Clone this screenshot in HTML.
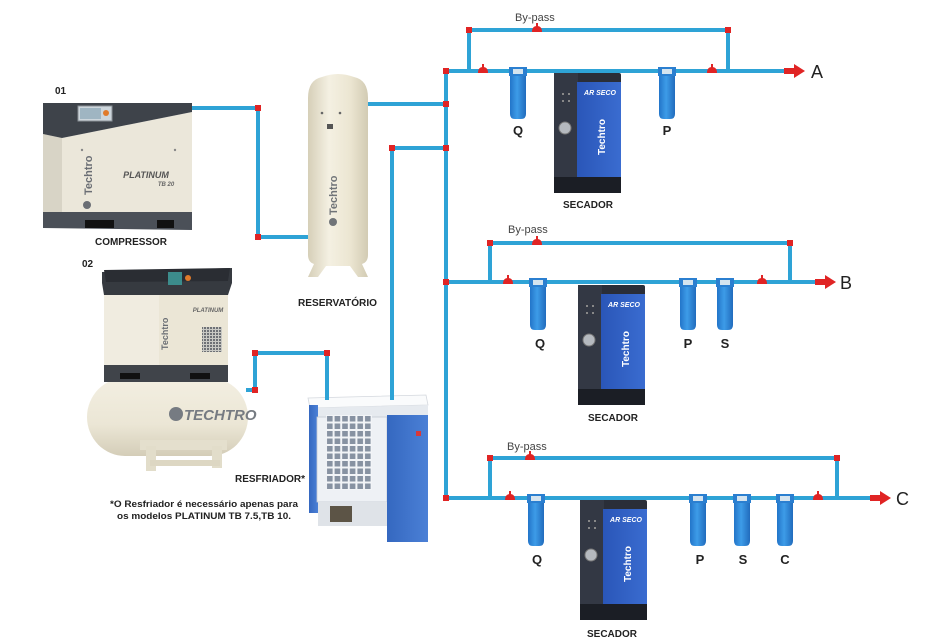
<!DOCTYPE html>
<html><head><meta charset="utf-8">
<style>
html,body{margin:0;padding:0;background:#fff;}
svg{display:block;}
text{font-family:"Liberation Sans",Arial,sans-serif;}
</style></head>
<body>
<svg width="930" height="642" viewBox="0 0 930 642" xmlns="http://www.w3.org/2000/svg">
<defs>
  <linearGradient id="resv" x1="0" x2="1" y1="0" y2="0">
    <stop offset="0" stop-color="#d6cfb8"/>
    <stop offset="0.35" stop-color="#f4f0e2"/>
    <stop offset="0.7" stop-color="#ece6d2"/>
    <stop offset="1" stop-color="#d2cbb3"/>
  </linearGradient>
  <linearGradient id="tank" x1="0" x2="0" y1="0" y2="1">
    <stop offset="0" stop-color="#f3efe2"/>
    <stop offset="0.6" stop-color="#ebe6d5"/>
    <stop offset="1" stop-color="#d4cdb8"/>
  </linearGradient>
  <linearGradient id="filt" x1="0" x2="1" y1="0" y2="0">
    <stop offset="0" stop-color="#1f6fc4"/>
    <stop offset="0.45" stop-color="#3d9ce8"/>
    <stop offset="1" stop-color="#1e66b8"/>
  </linearGradient>
  <linearGradient id="bluep" x1="0" x2="1" y1="0" y2="0">
    <stop offset="0" stop-color="#2a56b8"/>
    <stop offset="1" stop-color="#3a6cd0"/>
  </linearGradient>
  <linearGradient id="fridge" x1="0" x2="1" y1="0" y2="0">
    <stop offset="0" stop-color="#3568c0"/>
    <stop offset="1" stop-color="#4b80d6"/>
  </linearGradient>
  <pattern id="grid" width="7.6" height="7.5" patternUnits="userSpaceOnUse" x="326" y="415">
    <rect width="7.6" height="7.5" fill="#f2f4f7"/>
    <rect x="1" y="1" width="5.6" height="5.5" fill="#8792a2"/>
  </pattern>
  <pattern id="grille" width="3" height="3" patternUnits="userSpaceOnUse">
    <rect width="3" height="3" fill="#c9c9c4"/>
    <rect width="2" height="2" fill="#6e7176"/>
  </pattern>
  <symbol id="filter" overflow="visible">
    <path d="M-9,0 H9 V9 H8 V47 Q8,52 3,52 H-3 Q-8,52 -8,47 V9 H-9 Z" fill="url(#filt)"/>
    <rect x="-9" y="0" width="18" height="9" fill="#2b7fd0"/>
    <rect x="-5" y="2" width="10" height="5" fill="#d5e4ef"/>
  </symbol>
  <symbol id="secador" overflow="visible">
    <rect x="0" y="0" width="67" height="120" rx="2" fill="#2a2e38"/>
    <rect x="0" y="0" width="24" height="104" fill="#333844"/>
    <rect x="23" y="9" width="44" height="95" fill="url(#bluep)"/>
    <rect x="0" y="104" width="67" height="16" fill="#1b1e25"/>
    <circle cx="11" cy="55" r="6" fill="#b5b9bf" stroke="#777" stroke-width="1"/>
    <rect x="8" y="20" width="2" height="2" fill="#888"/>
    <rect x="14" y="20" width="2" height="2" fill="#888"/>
    <rect x="8" y="27" width="2" height="2" fill="#888"/>
    <rect x="14" y="27" width="2" height="2" fill="#888"/>
  </symbol>
  <symbol id="valve" overflow="visible">
    <path d="M-5,0 Q-5,-6 0,-6 Q5,-6 5,0 Z" fill="#e02424"/>
    <rect x="-1" y="-9" width="2" height="4" fill="#e02424"/>
  </symbol>
</defs>

<rect width="930" height="642" fill="#fff"/>

<!-- ===== Compressor 01 ===== -->
<polygon points="43,134 62,138 192,112 192,212 43,212" fill="#ebe7da"/>
<polygon points="43,134 62,138 62,212 43,212" fill="#d8d4c6"/>
<polygon points="43,103 192,103 192,112 62,138 43,134" fill="#3e434a"/>
<rect x="78" y="106" width="34" height="15" fill="#cdd6dc" stroke="#8a9096" stroke-width="1"/>
<rect x="80" y="108" width="21" height="11" fill="#9fb5c2"/>
<circle cx="106" cy="113" r="3" fill="#e07a2a"/>
<circle cx="82" cy="150" r="1.2" fill="#888"/>
<circle cx="175" cy="150" r="1.2" fill="#888"/>
<polygon points="43,212 192,212 192,230 43,228" fill="#4b5058"/>
<rect x="85" y="220" width="29" height="8" fill="#111"/>
<rect x="157" y="220" width="17" height="8" fill="#111"/>
<text x="146" y="178" font-size="9" font-weight="bold" font-style="italic" fill="#555" text-anchor="middle">PLATINUM</text>
<text x="166" y="186" font-size="6" font-weight="bold" font-style="italic" fill="#666" text-anchor="middle">TB 20</text>
<text transform="translate(92,195) rotate(-90)" font-size="11" font-weight="bold" fill="#6a6e74">Techtro</text>
<circle cx="87" cy="205" r="4" fill="#6a6e74"/>

<!-- ===== Reservoir ===== -->
<path d="M308,255 V98 Q308,80 322,77 Q338,71 354,77 Q368,80 368,98 V255 Q368,262 362,264 L368,277 L358,277 L350,266 H326 L318,277 L308,277 L314,264 Q308,262 308,255 Z" fill="url(#resv)"/>
<circle cx="322" cy="113" r="1.3" fill="#666"/>
<circle cx="340" cy="113" r="1.3" fill="#666"/>
<rect x="327" y="124" width="6" height="5" fill="#555"/>
<text transform="translate(337,215) rotate(-90)" font-size="11" font-weight="bold" fill="#707478">Techtro</text>
<circle cx="333" cy="222" r="4" fill="#707478"/>

<!-- ===== Compressor 02 ===== -->
<rect x="87" y="378" width="161" height="78" rx="38" ry="39" fill="url(#tank)"/>
<rect x="140" y="440" width="87" height="10" fill="#e4dfcd"/>
<rect x="146" y="446" width="10" height="25" fill="#e2ddca"/>
<rect x="212" y="446" width="10" height="22" fill="#e2ddca"/>
<rect x="150" y="460" width="70" height="6" fill="#ddd7c3"/>
<polygon points="102,272 232,268 232,283 228,295 104,295 102,283" fill="#363a40"/>
<polygon points="104,270 230,268 228,281 106,282" fill="#2a2d33"/>
<rect x="168" y="272" width="14" height="13" fill="#3c8c8c"/>
<circle cx="188" cy="278" r="3" fill="#e07a2a"/>
<rect x="104" y="295" width="124" height="70" fill="#ebe6d6"/>
<rect x="104" y="295" width="55" height="70" fill="#f0ece0"/>
<rect x="202" y="327" width="20" height="25" fill="url(#grille)"/>
<text x="208" y="312" font-size="6" font-weight="bold" font-style="italic" fill="#666" text-anchor="middle">PLATINUM</text>
<text transform="translate(168,350) rotate(-90)" font-size="9" font-weight="bold" fill="#6a6e74">Techtro</text>
<rect x="104" y="365" width="124" height="17" fill="#40444a"/>
<rect x="120" y="373" width="20" height="6" fill="#111"/>
<rect x="190" y="373" width="20" height="6" fill="#111"/>
<circle cx="176" cy="414" r="7" fill="#767b82"/>
<text x="184" y="420" font-size="15" font-weight="bold" font-style="italic" fill="#767b82">TECHTRO</text>

<!-- ===== Refrigerator ===== -->
<polygon points="308,398 426,395 428,405 310,408" fill="#fafbfc" stroke="#d4d8de" stroke-width="0.8"/>
<polygon points="310,408 428,405 428,417 312,419" fill="#e6eaef"/>
<rect x="309" y="405" width="9" height="108" fill="url(#fridge)"/>
<rect x="317" y="417" width="70" height="85" fill="#eef1f5" stroke="#c4cad2" stroke-width="0.8"/>
<rect x="326" y="415" width="46" height="75" fill="url(#grid)"/>
<rect x="318" y="502" width="69" height="24" fill="#dfe3e8"/>
<rect x="330" y="506" width="22" height="16" fill="#5c5446"/>
<rect x="387" y="415" width="41" height="127" fill="url(#fridge)"/>
<rect x="416" y="431" width="5" height="5" fill="#d8383a"/>

<!-- ===== Secadors ===== -->
<use href="#secador" x="554" y="73"/>
<use href="#secador" x="578" y="285"/>
<use href="#secador" x="580" y="500"/>
<text x="600" y="95" font-size="7" font-weight="bold" font-style="italic" fill="#fff" text-anchor="middle">AR SECO</text>
<text transform="translate(605,155) rotate(-90)" font-size="10" font-weight="bold" fill="#fff">Techtro</text>
<text x="624" y="307" font-size="7" font-weight="bold" font-style="italic" fill="#fff" text-anchor="middle">AR SECO</text>
<text transform="translate(629,367) rotate(-90)" font-size="10" font-weight="bold" fill="#fff">Techtro</text>
<text x="626" y="522" font-size="7" font-weight="bold" font-style="italic" fill="#fff" text-anchor="middle">AR SECO</text>
<text transform="translate(631,582) rotate(-90)" font-size="10" font-weight="bold" fill="#fff">Techtro</text>

<!-- ===== Pipes ===== -->
<g fill="none" stroke="#2ea3d6" stroke-width="4" stroke-linejoin="miter">
  <path d="M192,108 H258 V237 H308"/>
  <path d="M368,104 H446"/>
  <path d="M446,71 V498"/>
  <path d="M446,148 H392 V400"/>
  <path d="M246,390 H255 V353 H327 V400"/>
  <path d="M446,71 H786"/>
  <path d="M469,71 V30 H728 V71"/>
  <path d="M446,282 H816"/>
  <path d="M490,282 V243 H790 V282"/>
  <path d="M446,498 H871"/>
  <path d="M490,498 V458 H837 V498"/>
</g>

<!-- corner markers -->
<g fill="#e02424">
  <rect x="255" y="105" width="6" height="6"/>
  <rect x="255" y="234" width="6" height="6"/>
  <rect x="252" y="350" width="6" height="6"/>
  <rect x="324" y="350" width="6" height="6"/>
  <rect x="252" y="387" width="6" height="6"/>
  <rect x="389" y="145" width="6" height="6"/>
  <rect x="443" y="68" width="6" height="6"/>
  <rect x="443" y="101" width="6" height="6"/>
  <rect x="443" y="145" width="6" height="6"/>
  <rect x="443" y="279" width="6" height="6"/>
  <rect x="443" y="495" width="6" height="6"/>
  <rect x="466" y="27" width="6" height="6"/>
  <rect x="725" y="27" width="6" height="6"/>
  <rect x="487" y="240" width="6" height="6"/>
  <rect x="787" y="240" width="6" height="6"/>
  <rect x="487" y="455" width="6" height="6"/>
  <rect x="834" y="455" width="6" height="6"/>
</g>

<!-- valves -->
<use href="#valve" x="483" y="73"/>
<use href="#valve" x="712" y="73"/>
<use href="#valve" x="537" y="32"/>
<use href="#valve" x="508" y="284"/>
<use href="#valve" x="762" y="284"/>
<use href="#valve" x="537" y="245"/>
<use href="#valve" x="510" y="500"/>
<use href="#valve" x="818" y="500"/>
<use href="#valve" x="530" y="460"/>

<!-- filters -->
<use href="#filter" x="518" y="67"/>
<use href="#filter" x="667" y="67"/>
<use href="#filter" x="538" y="278"/>
<use href="#filter" x="688" y="278"/>
<use href="#filter" x="725" y="278"/>
<use href="#filter" x="536" y="494"/>
<use href="#filter" x="698" y="494"/>
<use href="#filter" x="742" y="494"/>
<use href="#filter" x="785" y="494"/>

<!-- arrows -->
<g fill="#e02424">
  <rect x="784" y="68" width="12" height="6"/>
  <polygon points="794,64 805,71 794,78"/>
  <rect x="815" y="279" width="12" height="6"/>
  <polygon points="825,275 836,282 825,289"/>
  <rect x="870" y="495" width="12" height="6"/>
  <polygon points="880,491 891,498 880,505"/>
</g>

<!-- ===== Labels ===== -->
<g fill="#222">
  <text x="811" y="78" font-size="18">A</text>
  <text x="840" y="289" font-size="18">B</text>
  <text x="896" y="505" font-size="18">C</text>
</g>
<g fill="#444" font-size="11">
  <text x="515" y="21">By-pass</text>
  <text x="508" y="233">By-pass</text>
  <text x="507" y="450">By-pass</text>
</g>
<g fill="#222" font-size="13" font-weight="bold" text-anchor="middle">
  <text x="518" y="135">Q</text>
  <text x="667" y="135">P</text>
  <text x="540" y="348">Q</text>
  <text x="688" y="348">P</text>
  <text x="725" y="348">S</text>
  <text x="537" y="564">Q</text>
  <text x="700" y="564">P</text>
  <text x="743" y="564">S</text>
  <text x="785" y="564">C</text>
</g>
<g fill="#222" font-size="10" font-weight="bold">
  <text x="563" y="208" textLength="50" lengthAdjust="spacingAndGlyphs">SECADOR</text>
  <text x="588" y="421" textLength="50" lengthAdjust="spacingAndGlyphs">SECADOR</text>
  <text x="587" y="637" textLength="50" lengthAdjust="spacingAndGlyphs">SECADOR</text>
  <text x="55" y="94">01</text>
  <text x="82" y="267">02</text>
  <text x="95" y="245" textLength="72" lengthAdjust="spacingAndGlyphs">COMPRESSOR</text>
  <text x="298" y="306" textLength="79" lengthAdjust="spacingAndGlyphs">RESERVATÓRIO</text>
  <text x="235" y="482" textLength="70" lengthAdjust="spacingAndGlyphs">RESFRIADOR*</text>
  <text x="110" y="507" font-size="9.5" textLength="188" lengthAdjust="spacingAndGlyphs">*O Resfriador é necessário apenas para</text>
  <text x="117" y="519" font-size="9.5" textLength="174" lengthAdjust="spacingAndGlyphs">os modelos PLATINUM TB 7.5,TB 10.</text>
</g>
</svg>
</body></html>
